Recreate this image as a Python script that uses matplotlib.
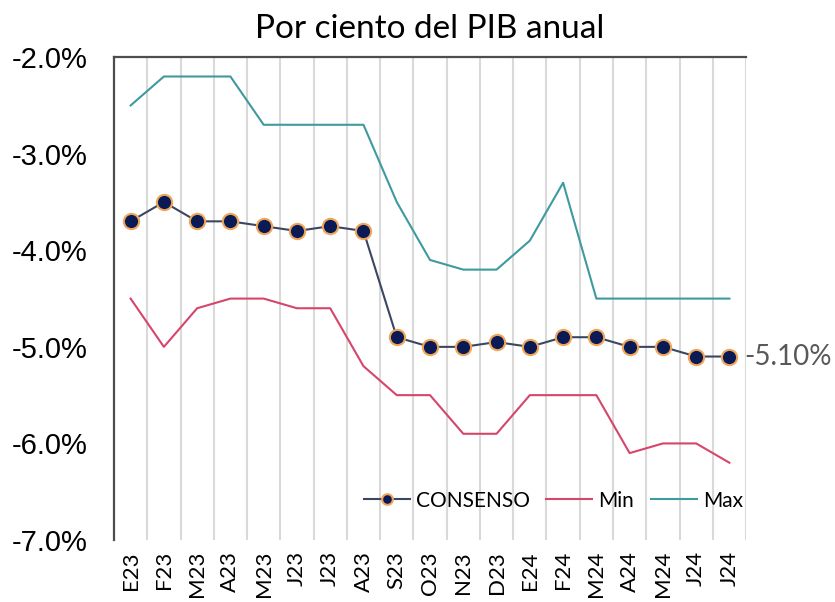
import matplotlib.pyplot as plt
import numpy as np

meses = ['E23', 'F23', 'M23', 'A23', 'M23', 'J23', 'J23', 'A23', 'S23', 'O23',
         'N23', 'D23', 'E24', 'F24', 'M24', 'A24', 'M24', 'J24', 'J24']

consenso = [-3.70, -3.50, -3.70, -3.70, -3.75, -3.80, -3.75, -3.80, -4.90, -5.00,
            -5.00, -4.95, -5.00, -4.90, -4.90, -5.00, -5.00, -5.10, -5.10]
minimo = [-4.5, -5.0, -4.6, -4.5, -4.5, -4.6, -4.6, -5.2, -5.5, -5.5,
          -5.9, -5.9, -5.5, -5.5, -5.5, -6.1, -6.0, -6.0, -6.2]
maximo = [-2.5, -2.2, -2.2, -2.2, -2.7, -2.7, -2.7, -2.7, -3.5, -4.1,
          -4.2, -4.2, -3.9, -3.3, -4.5, -4.5, -4.5, -4.5, -4.5]

plt.rcParams['font.family'] = ['Lato', 'DejaVu Sans']

fig = plt.figure(figsize=(8.35, 6.02), dpi=100)
ax = fig.add_axes([0.1365, 0.103, 0.757, 0.802])

x = np.arange(len(meses))

ax.plot(x, consenso, color='#3b4660', lw=1.5, marker='o', ms=11,
        mfc='#0a1a55', mec='#f0a55a', mew=1.5, label='CONSENSO', zorder=4)
ax.plot(x, minimo, color='#d6456a', lw=1.5, label='Min', zorder=3)
ax.plot(x, maximo, color='#3e9a9e', lw=1.5, label='Max', zorder=3)

ax.annotate('-5.10%', (x[-1], consenso[-1]), xytext=(11, 0),
            textcoords='offset points', va='center', ha='left',
            fontsize=20, color='#595959')

ax.set_xlim(-0.5, len(meses) - 0.5)
ax.set_ylim(-7, -2)
yt = np.arange(-7, -1.9, 1)
ax.set_yticks(yt)
ax.set_yticklabels([f'{v:.1f}%' for v in yt],
                   family='Liberation Sans', fontsize=21)
ax.set_xticks(x)
ax.set_xticklabels(meses, rotation=90, fontsize=16)
ax.tick_params(length=0)
ax.tick_params(axis='y', pad=19)
ax.tick_params(axis='x', pad=8)

# lineas verticales entre categorias
ax.set_xticks(x + 0.5, minor=True)
ax.grid(axis='x', which='minor', color='#d9d9d9', lw=1.5)
ax.tick_params(which='minor', length=0)

for s in ['right', 'bottom']:
    ax.spines[s].set_visible(False)
for s in ['left', 'top']:
    ax.spines[s].set_color('#4d4d4d')
    ax.spines[s].set_linewidth(1.6)

ax.set_title('Por ciento del PIB anual', fontsize=24, pad=14)

ax.legend(loc='lower right', ncol=3, frameon=False, fontsize=15,
          handlelength=2.2, columnspacing=0.8, handletextpad=0.3,
          borderaxespad=0.2, bbox_to_anchor=(1.015, 0.035), markerscale=0.7)

fig.savefig('out.png', dpi=100)
